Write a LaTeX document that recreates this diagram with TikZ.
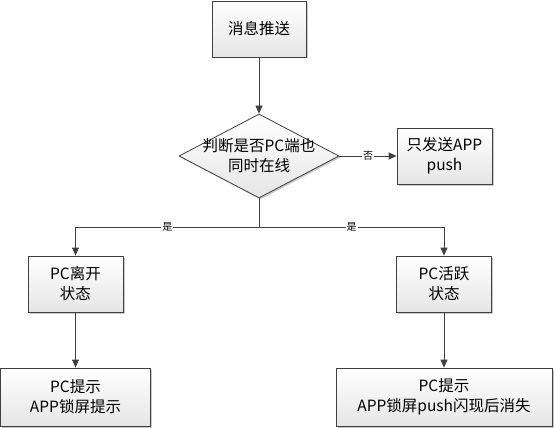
\documentclass[tikz,border=0pt]{standalone}
\usepackage{fontspec}
\newfontfamily\cjk{Noto Sans CJK SC}
\usetikzlibrary{arrows.meta}
\usetikzlibrary{shapes.geometric}
\usetikzlibrary{shadows}

\begin{document}
\begin{tikzpicture}[
  x=1pt, y=-1pt,
  > = {Triangle[length=8pt,width=7pt]},
  every node/.style = {font=\cjk\fontsize{15.5}{20}\selectfont},
  box/.style = {draw=black!75, line width=0.8pt, top color=white, bottom color=black!10,
    align=center, inner sep=0pt,
    drop shadow={shadow xshift=1.5pt,shadow yshift=-1.5pt,fill=black!35,opacity=0.6}},
  decision/.style = {box, shape=diamond, aspect=1.9, inner xsep=-30pt, inner ysep=-18pt,
    minimum width=160pt, minimum height=84pt},
  link/.style = {draw=black!75, line width=0.8pt},
  tag/.style = {fill=white, inner sep=1pt, font=\cjk\fontsize{10}{11}\selectfont}
  ]
	\useasboundingbox (0,0) rectangle (555,428);

	\node[box, minimum width=94pt, minimum height=56pt] (push) at (259,29) {消息推送};
	\node[decision] (judge) at (259,156) {判断是否PC端也\\同时在线};
	\node[box, minimum width=95pt, minimum height=56pt] (apponly) at (444.5,156) {只发送APP\\push};

	\node[box, minimum width=95pt, minimum height=56pt] (leave) at (75.5,284) {PC离开\\状态};
	\node[box, minimum width=95pt, minimum height=56pt] (active) at (444,284) {PC活跃\\状态};

	\node[box, minimum width=150pt, minimum height=58pt] (tipleft) at (75.5,397) {PC提示\\APP锁屏提示};
	\node[box, minimum width=216pt, minimum height=58pt] (tipright) at (444,397) {PC提示\\APP锁屏push闪现后消失};

	\coordinate (split) at (259,227);

	\draw[link,->] (push) -- (judge);
	\draw[link,->] (judge) -- node[tag] {否} (apponly);
	\draw[link] (judge.south) -- (split);
	\draw[link,->] (split) -| node[tag,pos=0.25] {是} (leave.north);
	\draw[link,->] (split) -| node[tag,pos=0.25] {是} (active.north);
	\draw[link,->] (leave) -- (tipleft);
	\draw[link,->] (active) -- (tipright);

\end{tikzpicture}
\end{document}
